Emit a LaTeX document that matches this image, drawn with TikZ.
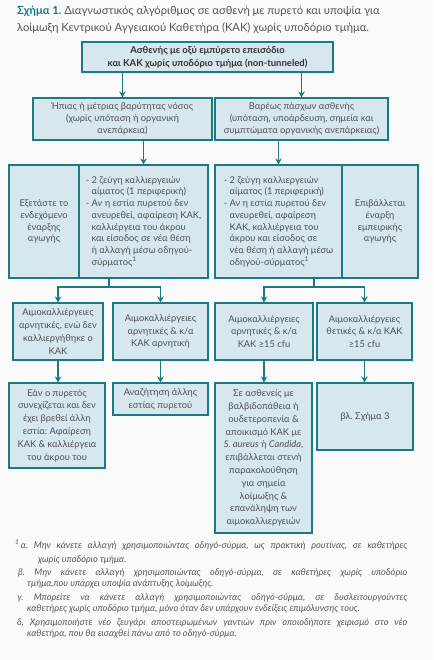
\documentclass[tikz,border=0pt]{standalone}
\usepackage{fontspec}
\setmainfont{Lato}
\usetikzlibrary{arrows.meta}
\definecolor{teal1}{HTML}{1A7A85}
\definecolor{boxfill}{HTML}{D6E7ED}
\definecolor{txt}{HTML}{505050}
\definecolor{titlegray}{HTML}{555555}
\definecolor{bg}{HTML}{FAFAFA}
\begin{document}
\frenchspacing
\begin{tikzpicture}[x=1pt,y=-1pt,
  box/.style={draw=teal1, line width=1.1pt, fill=boxfill, text=txt, inner sep=0pt, align=center, font=\fontsize{9.3}{12.8}\selectfont},
  tight/.style={font=\fontsize{9.3}{11.7}\selectfont},
  arr/.style={draw=teal1, line width=1.4pt, -{Stealth[length=6pt,width=6.5pt]}},
  ln/.style={draw=teal1, line width=1.4pt},
  ttl/.style={anchor=base west, inner sep=0pt, text=titlegray, font=\fontsize{11.2}{14}\selectfont},
  fn/.style={anchor=base west, inner sep=0pt, text=titlegray, font=\fontsize{9.2}{11}\selectfont\itshape\frenchspacing},
  ]
\fill[bg] (0,0) rectangle (433,660);
\useasboundingbox (0,0) rectangle (433,660);

% title
\node[ttl] (t1) at (17,15) {\textcolor{teal1}{\textbf{Σχήμα 1.}} Διαγνωστικός αλγόριθμος σε ασθενή με πυρετό και υποψία για};
\node[ttl] (t2) at (17,32) {λοίμωξη Κεντρικού Αγγειακού Καθετήρα (ΚΑΚ) χωρίς υποδόριο τμήμα.};

% top
\node[box, minimum width=251pt, minimum height=30pt, text=black!80, font=\fontsize{9.5}{13}\selectfont\bfseries] (top) at (207.5,57)
 {Ασθενής με οξύ εμπύρετο επεισόδιο\\και ΚΑΚ χωρίς υποδόριο τμήμα (non-tunneled)};

% severity
\node[box, minimum width=179pt, minimum height=42pt, font=\fontsize{9.3}{12}\selectfont] (sevL) at (122.5,119)
 {Ήπιας ή μέτριας βαρύτητας νόσος\\(χωρίς υπόταση ή οργανική\\ανεπάρκεια)};
\node[box, minimum width=173pt, minimum height=42pt, font=\fontsize{9.3}{12}\selectfont] (sevR) at (301.5,119)
 {Βαρέως πάσχων ασθενής\\(υπόταση, υποάρδευση, σημεία και\\συμπτώματα οργανικής ανεπάρκειας)};

% row 3 left
\node[box, tight, minimum width=70pt, minimum height=113pt] (c3a) at (44,221.5)
 {Εξετάστε το\\ενδεχόμενο\\έναρξης\\αγωγής};
\node[box, tight, minimum width=129pt, minimum height=113pt, align=left] (c3b) at (143.5,221.5)
 {- 2 ζεύγη καλλιεργειών\\\phantom{- }αίματος (1 περιφερική)\\- Αν η εστία πυρετού δεν\\\phantom{- }ανευρεθεί, αφαίρεση ΚΑΚ,\\\phantom{- }καλλιέργεια του άκρου\\\phantom{- }και είσοδος σε νέα θέση\\\phantom{- }ή αλλαγή μέσω οδηγού-\\\phantom{- }σύρματος\textsuperscript{1}};

% row 3 right
\node[box, tight, minimum width=127pt, minimum height=113pt, align=left] (c3c) at (278.5,221.5)
 {- 2 ζεύγη καλλιεργειών\\\phantom{- }αίματος (1 περιφερική)\\- Αν η εστία πυρετού δεν\\\phantom{- }ανευρεθεί, αφαίρεση\\\phantom{- }ΚΑΚ, καλλιέργεια του\\\phantom{- }άκρου και είσοδος σε\\\phantom{- }νέα θέση ή αλλαγή μέσω\\\phantom{- }οδηγού-σύρματος\textsuperscript{1}};
\node[box, tight, minimum width=76pt, minimum height=113pt] (c3d) at (380,221.5)
 {Επιβάλλεται\\έναρξη\\εμπειρικής\\αγωγής};

% row 4
\node[box, minimum width=90pt, minimum height=57pt] (A) at (58,331.5)
 {Αιμοκαλλιέργειες\\αρνητικές, ενώ δεν\\καλλιεργήθηκε ο\\ΚΑΚ};
\node[box, minimum width=95pt, minimum height=57pt] (B) at (160.5,331.5)
 {Αιμοκαλλιέργειες\\αρνητικές \& κ/α\\ΚΑΚ αρνητική};
\node[box, minimum width=98pt, minimum height=57pt] (C) at (264,331.5)
 {Αιμοκαλλιέργειες\\αρνητικές \& κ/α\\ΚΑΚ ≥15 cfu};
\node[box, minimum width=95pt, minimum height=57pt] (D) at (364.5,331.5)
 {Αιμοκαλλιέργειες\\θετικές \& κ/α ΚΑΚ\\≥15 cfu};

% row 5
\node[box, minimum width=96pt, minimum height=85pt] (E) at (57,425.5)
 {Εάν ο πυρετός\\συνεχίζεται και δεν\\έχει βρεθεί άλλη\\εστία: Αφαίρεση\\ΚΑΚ \& καλλιέργεια\\του άκρου του};
\node[box, minimum width=95pt, minimum height=32pt] (F) at (160.5,399)
 {Αναζήτηση άλλης\\εστίας πυρετού};
\node[box, minimum width=97pt, minimum height=150pt] (G) at (263.5,458)
 {Σε ασθενείς με\\βαλβιδοπάθεια ή\\ουδετεροπενία \&\\αποικισμό ΚΑΚ με\\\textit{S. aureus} ή \textit{Candida},\\επιβάλλεται στενή\\παρακολούθηση\\για σημεία\\λοίμωξης \&\\επανάληψη των\\αιμοκαλλιεργειών};
\node[box, minimum width=96pt, minimum height=67pt] (H) at (365,416.5)
 {βλ. Σχήμα 3};

% connectors
\draw[arr] (top.south -| sevL) -- (sevL.north);
\draw[arr] (top.south -| sevR) -- (sevR.north);
\draw[arr] (sevL.south -| c3b) -- (c3b.north);
\draw[arr] (sevR.south -| c3c) -- (c3c.north);
\coordinate (jL) at (109,287);
\coordinate (jR) at (314,287);
\draw[ln] (c3b.south -| jL) -- (jL);
\draw[arr] (jL) -| (A.north);
\draw[arr] (jL) -| (B.north);
\draw[ln] (c3c.south -| jR) -- (jR);
\draw[arr] (jR) -| (C.north);
\draw[arr] (jR) -| (D.north);
\draw[arr] (A.south) -- (A.south |- E.north);
\draw[arr] (B.south) -- (B.south |- F.north);
\draw[arr] (C.south) -- (C.south |- G.north);
\draw[arr] (D.south) -- (D.south |- H.north);

% footnotes
\node[fn] (f1) at (15,548) {\makebox[392pt][s]{\textsuperscript{1}\,α. Μην κάνετε αλλαγή χρησιμοποιώντας οδηγό-σύρμα, ως πρακτική ρουτίνας, σε καθετήρες}};
\node[fn] (f2) at (38,562) {χωρίς υποδόριο τμήμα.};
\node[fn] (f3) at (18,575) {\makebox[389pt][s]{β. Μην κάνετε αλλαγή χρησιμοποιώντας οδηγό-σύρμα, σε καθετήρες χωρίς υποδόριο}};
\node[fn] (f4) at (27,586) {τμήμα,που υπάρχει υποψία ανάπτυξης λοίμωξης.};
\node[fn] (f5) at (17,600) {\makebox[390pt][s]{γ. Μπορείτε να κάνετε αλλαγή χρησιμοποιώντας οδηγό-σύρμα, σε δυσλειτουργούντες}};
\node[fn] (f6) at (27,611) {καθετήρες χωρίς υποδόριο τμήμα, μόνο όταν δεν υπάρχουν ενδείξεις επιμόλυνσης τους.};
\node[fn] (f7) at (17,625) {\makebox[390pt][s]{δ. Χρησιμοποιήστε νέο ζευγάρι αποστειρωμένων γαντιών πριν οποιοδήποτε χειρισμό στο νέο}};
\node[fn] (f8) at (27,636) {καθετήρα, που θα εισαχθεί πάνω από το οδηγό-σύρμα.};
\end{tikzpicture}
\end{document}
